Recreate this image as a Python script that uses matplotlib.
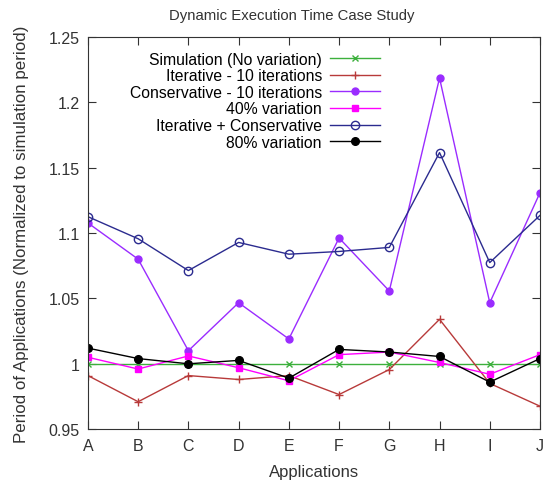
import matplotlib.pyplot as plt
import numpy as np

plt.rcParams['font.family'] = ['Liberation Sans', 'DejaVu Sans']

apps = ['A', 'B', 'C', 'D', 'E', 'F', 'G', 'H', 'I', 'J']

simulation = [1.0, 1.0, 1.0, 1.0, 1.0, 1.0, 1.0, 1.0, 1.0, 1.0]
iterative = [0.991, 0.971, 0.991, 0.988, 0.991, 0.9765, 0.9956, 1.034, 0.985, 0.9676]
conservative = [1.1077, 1.080, 1.010, 1.0467, 1.019, 1.0962, 1.0557, 1.2185, 1.0467, 1.1308]
var40 = [1.005, 0.996, 1.006, 0.997, 0.987, 1.007, 1.009, 1.001, 0.992, 1.007]
iter_cons = [1.1125, 1.0956, 1.0713, 1.0928, 1.0838, 1.0859, 1.089, 1.1615, 1.0774, 1.1135]
var80 = [1.012, 1.004, 1.000, 1.0026, 0.989, 1.011, 1.009, 1.0056, 0.986, 1.004]

yticks = [0.95, 1.0, 1.05, 1.1, 1.15, 1.2, 1.25]
ytick_labels = ['0.95', '1', '1.05', '1.1', '1.15', '1.2', '1.25']

#------------------PLOT------------------

fig = plt.figure(figsize=(5.46, 4.85), dpi=100)
ax = fig.add_axes([0.161, 0.113, 0.828, 0.809])

x = np.arange(len(apps))
ax.plot(x, simulation, color='#3cb03c', marker='x', markersize=5, linewidth=1, label='Simulation (No variation)')
ax.plot(x, iterative, color='#b83a3a', marker='+', markersize=6, linewidth=1, label='Iterative - 10 iterations')
ax.plot(x, conservative, color='#9a2cff', marker='o', markersize=5, linewidth=1, label='Conservative - 10 iterations')
ax.plot(x, var40, color='#ff00ff', marker='s', markersize=5, linewidth=1, label='40% variation')
ax.plot(x, iter_cons, color='#2b2b8f', marker='o', markersize=6, markerfacecolor='none', linewidth=1, label='Iterative + Conservative')
ax.plot(x, var80, color='black', marker='o', markersize=5.5, linewidth=1, label='80% variation')

ax.set_xlim(0, 9)
ax.set_ylim(0.95, 1.25)
ax.set_xticks(x)
ax.set_xticklabels(apps)
ax.set_yticks(yticks)
ax.set_yticklabels(ytick_labels)
ax.tick_params(direction='in', top=True, right=True, length=6, labelsize=11.5, pad=6,
               labelcolor='#333333', color='#333333')
for s in ax.spines.values():
    s.set_color('#333333')

fig.text(0.534, 0.966, 'Dynamic Execution Time Case Study', fontsize=10.7, color='#333333',
         ha='center', va='center')
ax.set_xlabel('Applications', fontsize=12, color='#333333', labelpad=8)
ax.set_ylabel('Period of Applications (Normalized to simulation period)', fontsize=12.2,
              color='#333333', labelpad=14)

ax.legend(loc='upper right', bbox_to_anchor=(0.646, 0.962), markerfirst=False, frameon=False,
          fontsize=11.3, handlelength=3.2, handletextpad=0.5, labelspacing=0.1,
          borderaxespad=0, borderpad=0)

plt.savefig('out.png', dpi=100)
